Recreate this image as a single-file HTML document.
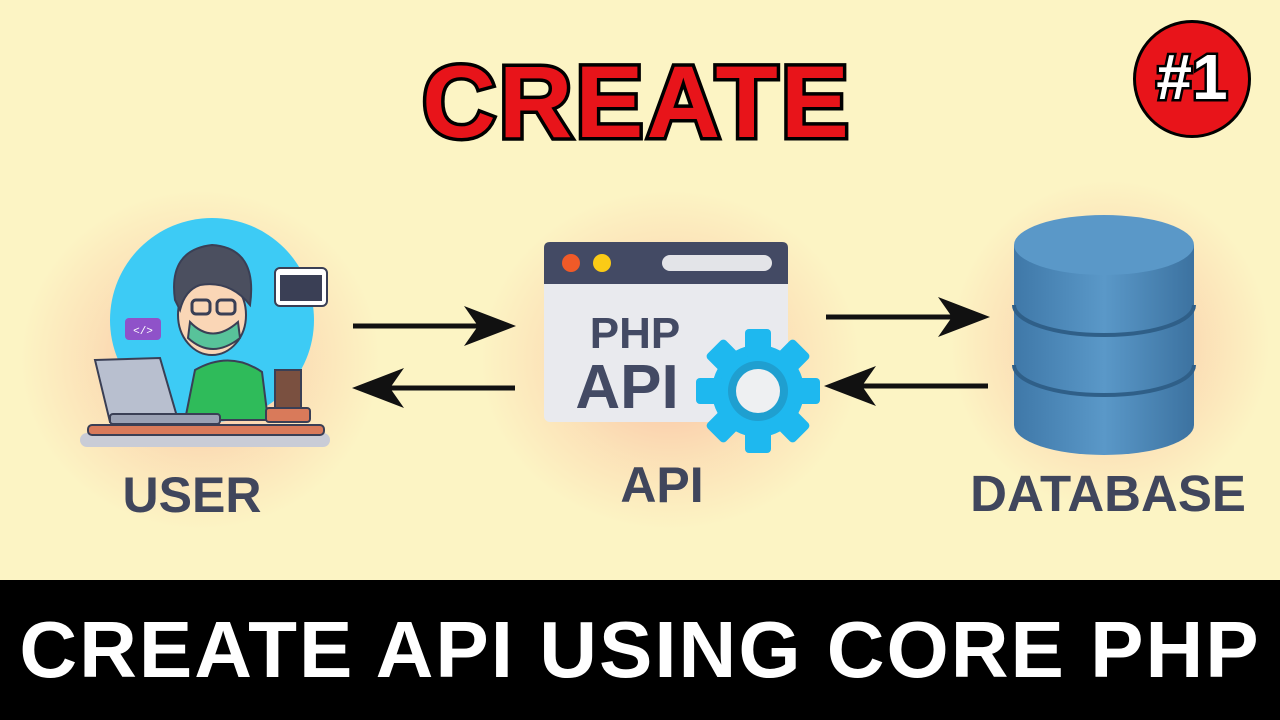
<!DOCTYPE html>
<html><head><meta charset="utf-8"><style>
body{margin:0;width:1280px;height:720px;overflow:hidden;position:relative;background:#fcf4c4;font-family:"Liberation Sans",Arial,sans-serif}
.glow{position:absolute;border-radius:50%;background:radial-gradient(closest-side,rgba(250,170,150,.75),rgba(250,190,160,.35) 60%,rgba(252,244,196,0))}
.t{position:absolute;font-weight:bold;text-align:center;white-space:nowrap}
</style></head><body>
<div class="glow" style="left:20px;top:190px;width:360px;height:340px"></div>
<div class="glow" style="left:480px;top:190px;width:380px;height:340px"></div>
<div class="glow" style="left:950px;top:180px;width:320px;height:330px"></div>

<div class="t" style="left:287px;width:700px;top:44px;font-size:102px;color:#e8141a;-webkit-text-stroke:7px #000;paint-order:stroke fill;letter-spacing:3px">CREATE</div>

<div style="position:absolute;left:1133px;top:20px;width:112px;height:112px;border-radius:50%;background:#e8141a;border:3px solid #000"></div>
<div class="t" style="left:1133px;width:118px;top:40px;font-size:64px;color:#fff;-webkit-text-stroke:5px #000;paint-order:stroke fill">#1</div>

<svg width="1280" height="720" style="position:absolute;left:0;top:0">
<defs>
<linearGradient id="db" x1="0" x2="1"><stop offset="0" stop-color="#3f78a8"/><stop offset=".5" stop-color="#5a98c8"/><stop offset="1" stop-color="#3c72a0"/></linearGradient>
</defs>
<circle cx="212" cy="320" r="102" fill="#3dcbf5"/>
<rect x="80" y="433" width="250" height="14" rx="7" fill="#c9ccd6"/>
<rect x="88" y="425" width="236" height="10" rx="4" fill="#d97a5a" stroke="#3a3f55" stroke-width="2"/>
<path d="M185 420 L195 370 Q230 350 262 372 L268 420 Z" fill="#2fbb5a" stroke="#3a3f55" stroke-width="2"/>
<ellipse cx="212" cy="315" rx="34" ry="40" fill="#fad6b6" stroke="#3a3f55" stroke-width="2"/>
<path d="M175 300 Q168 250 212 245 Q258 248 250 305 Q230 280 200 285 Q185 290 180 310 Z" fill="#4b4f5f" stroke="#3a3f55" stroke-width="2"/>
<path d="M190 322 Q212 345 238 322 L240 338 Q212 360 188 338 Z" fill="#58c39a" stroke="#3a3f55" stroke-width="2"/>
<rect x="192" y="300" width="18" height="14" rx="4" fill="none" stroke="#3a3f55" stroke-width="3"/>
<rect x="217" y="300" width="18" height="14" rx="4" fill="none" stroke="#3a3f55" stroke-width="3"/>
<path d="M95 360 L160 358 L178 420 L110 422 Z" fill="#b8bfcf" stroke="#3a3f55" stroke-width="2"/>
<rect x="110" y="414" width="110" height="10" rx="3" fill="#9aa1b4" stroke="#3a3f55" stroke-width="2"/>
<rect x="125" y="318" width="36" height="22" rx="4" fill="#8f52c9"/>
<text x="143" y="334" font-size="11" fill="#fff" text-anchor="middle" font-family="Liberation Mono">&lt;/&gt;</text>
<rect x="275" y="268" width="52" height="38" rx="5" fill="#fff" stroke="#3a3f55" stroke-width="2"/>
<rect x="280" y="275" width="42" height="26" fill="#3a3f55"/>
<rect x="266" y="408" width="44" height="14" rx="3" fill="#d97a5a" stroke="#3a3f55" stroke-width="2"/>
<rect x="275" y="370" width="26" height="38" fill="#7a5040" stroke="#3a3f55" stroke-width="2"/>
<!-- arrows -->
<g stroke="#111" stroke-width="5" fill="none">
<path d="M353 326 H490"/><path d="M515 388 H378"/><path d="M826 317 H965"/><path d="M988 386 H850"/>
</g>
<g fill="#111">
<path d="M516 326 L464 306 L478 326 L464 346 Z"/>
<path d="M352 388 L404 368 L390 388 L404 408 Z"/>
<path d="M990 317 L938 297 L952 317 L938 337 Z"/>
<path d="M824 386 L876 366 L862 386 L876 406 Z"/>
</g>
<!-- API window -->
<rect x="544" y="242" width="244" height="180" rx="6" fill="#e9eaee"/>
<path d="M544 284 V248 Q544 242 550 242 H782 Q788 242 788 248 V284 Z" fill="#434a64"/>
<circle cx="571" cy="263" r="9" fill="#f05a28"/><circle cx="602" cy="263" r="9" fill="#fbcb16"/>
<rect x="662" y="255" width="110" height="16" rx="8" fill="#e3e4e8"/>
<text x="635" y="348" font-size="44" font-weight="bold" fill="#434a64" text-anchor="middle" font-family="Liberation Sans">PHP</text>
<text x="627" y="408" font-size="62" font-weight="bold" fill="#434a64" text-anchor="middle" font-family="Liberation Sans">API</text>
<g transform="translate(758,391)" fill="#1eb8ef">
<circle r="46"/>
<g id="tooth"><rect x="-13" y="-62" width="26" height="28" rx="4"/></g>
<use href="#tooth" transform="rotate(45)"/><use href="#tooth" transform="rotate(90)"/><use href="#tooth" transform="rotate(135)"/>
<use href="#tooth" transform="rotate(180)"/><use href="#tooth" transform="rotate(225)"/><use href="#tooth" transform="rotate(270)"/><use href="#tooth" transform="rotate(315)"/>
<circle r="30" fill="#1f9fd0"/><circle r="22" fill="#eef0f2"/>
</g>
<path d="M1014 245 V425 A90 30 0 0 0 1194 425 V245 Z" fill="url(#db)"/>
<path d="M1014 305 A90 30 0 0 0 1194 305 M1014 365 A90 30 0 0 0 1194 365" stroke="#2f5f88" stroke-width="4" fill="none"/>
<ellipse cx="1104" cy="245" rx="90" ry="30" fill="#5a98c8"/>
</svg>

<div class="t" style="left:92px;width:200px;top:466px;font-size:50px;color:#40465c">USER</div>
<div class="t" style="left:562px;width:200px;top:456px;font-size:50px;color:#40465c">API</div>
<div class="t" style="left:948px;width:320px;top:464px;font-size:51px;color:#40465c">DATABASE</div>

<div style="position:absolute;left:0;top:580px;width:1280px;height:140px;background:#000"></div>
<div class="t" style="left:0;width:1280px;top:604px;font-size:80px;color:#fff;letter-spacing:2px">CREATE API USING CORE PHP</div>
</body></html>
